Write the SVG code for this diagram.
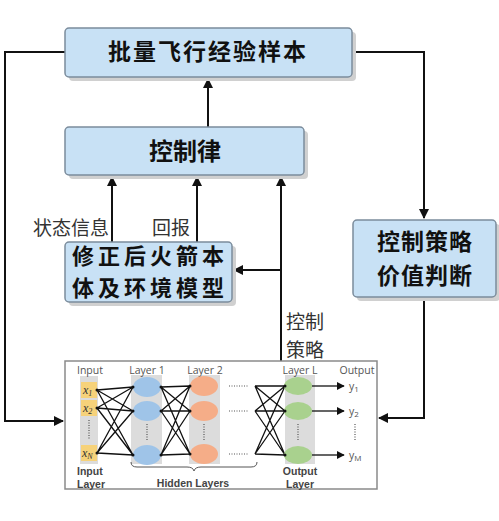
<svg xmlns="http://www.w3.org/2000/svg" width="499" height="521" viewBox="0 0 499 521">
<defs>
<style>
.box{fill:#c8e1f5;stroke:#7b8c9c;stroke-width:1.5}
.shadow{fill:#d0d0d0}
.bt{font-family:"Noto Sans CJK SC",sans-serif;font-weight:bold;fill:#111;text-anchor:middle}
.lb{font-family:"Noto Sans CJK SC",sans-serif;font-size:19px;fill:#333}
.ln{fill:none;stroke:#111;stroke-width:2}
.nn{fill:none;stroke:#111;stroke-width:1.3}
.col{fill:#dcdcdc}
.t{font-family:"Open Sans","Liberation Sans",sans-serif;font-size:10.5px;fill:#555}
.tb{font-family:"Liberation Sans",sans-serif;font-size:10.5px;font-weight:bold;fill:#444}
.xl{font-family:"Liberation Serif",serif;font-style:italic;font-size:12px;fill:#333}
.dot{fill:none;stroke:#555;stroke-width:1.2;stroke-dasharray:1 1.5}
</style>
<marker id="ah" viewBox="0 0 10 10" refX="9" refY="5" markerWidth="5" markerHeight="5" orient="auto" markerUnits="strokeWidth">
<path d="M0,0 L10,5 L0,10 z" fill="#111"/>
</marker>
<marker id="ah2" viewBox="0 0 10 10" refX="9" refY="5" markerWidth="6" markerHeight="6" orient="auto" markerUnits="strokeWidth">
<path d="M0,0 L10,5 L0,10 z" fill="#111"/>
</marker>
</defs>
<rect width="499" height="521" fill="#fff"/>

<g id="connectors">
<path class="ln" d="M208,127 L208,79" marker-end="url(#ah)"/>
<path class="ln" d="M65,52 L5,52 L5,421 L63,421" marker-end="url(#ah)"/>
<path class="ln" d="M352,52 L424,52 L424,218" marker-end="url(#ah)"/>
<path class="ln" d="M424,297 L424,418 L379,418" marker-end="url(#ah)"/>
<path class="ln" d="M112,242 L112,177" marker-end="url(#ah)"/>
<path class="ln" d="M197,242 L197,177" marker-end="url(#ah)"/>
<path class="ln" d="M281,361 L281,177" marker-end="url(#ah)"/>
<path class="ln" d="M281,270 L234,270" marker-end="url(#ah)"/>
</g>

<g id="labels">
<text class="lb" x="109" y="235" text-anchor="end">状态信息</text>
<text class="lb" x="190" y="235" text-anchor="end">回报</text>
<text class="lb" x="286" y="329">控制<tspan x="286" dy="28">策略</tspan></text>
</g>

<g id="node-samples">
<rect class="shadow" x="69" y="32" width="287" height="49" rx="4"/>
<rect class="box" x="65" y="28" width="287" height="49" rx="4"/>
<text class="bt" x="208" y="60" font-size="23" letter-spacing="2">批量飞行经验样本</text>
</g>

<g id="node-law">
<rect class="shadow" x="69" y="131" width="239" height="48" rx="4"/>
<rect class="box" x="65" y="127" width="239" height="48" rx="4"/>
<text class="bt" x="185" y="160" font-size="24">控制律</text>
</g>

<g id="node-model">
<rect class="shadow" x="69" y="246" width="167" height="60" rx="4"/>
<rect class="box" x="65" y="242" width="167" height="60" rx="4"/>
<text class="bt" x="150" y="264" font-size="22" letter-spacing="4">修正后火箭本<tspan x="150" dy="32">体及环境模型</tspan></text>
</g>

<g id="node-value">
<rect class="shadow" x="357" y="224" width="143" height="77" rx="4"/>
<rect class="box" x="353" y="220" width="143" height="77" rx="4"/>
<text class="bt" x="425" y="250" font-size="23" letter-spacing="1">控制策略<tspan x="425" dy="34">价值判断</tspan></text>
</g>

<g id="node-nn">
<rect x="65" y="361" width="312" height="128" fill="#fff" stroke="#8a8a8a" stroke-width="1.5"/>
<rect class="col" x="80" y="376" width="18" height="88"/>
<rect class="col" x="131" y="375" width="31" height="89"/>
<rect class="col" x="189" y="375" width="31" height="89"/>
<rect class="col" x="285" y="375" width="30" height="89"/>
<text class="t" x="77" y="374">Input</text>
<text class="t" x="147" y="374" text-anchor="middle">Layer 1</text>
<text class="t" x="205" y="374" text-anchor="middle">Layer 2</text>
<text class="t" x="300" y="374" text-anchor="middle">Layer L</text>
<text class="t" x="357" y="374" text-anchor="middle">Output</text>
<g class="nn">
<path d="M97,390 L133,387 M97,390 L133,411 M97,390 L133,455 M97,408 L133,387 M97,408 L133,411 M97,408 L133,455 M97,453 L133,387 M97,453 L133,411 M97,453 L133,455"/>
<path d="M161,387 L190,386 M161,387 L190,411 M161,387 L190,454 M161,411 L190,386 M161,411 L190,411 M161,411 L190,454 M161,455 L190,386 M161,455 L190,411 M161,455 L190,454"/>
<path d="M255,386 L285,386 M255,386 L285,411 M255,386 L285,455 M255,411 L285,386 M255,411 L285,411 M255,411 L285,455 M255,454 L285,386 M255,454 L285,411 M255,454 L285,455"/>
</g>
<rect x="81" y="382" width="16" height="16" fill="#f6d27a"/>
<rect x="81" y="400" width="16" height="16" fill="#f6d27a"/>
<rect x="81" y="445" width="16" height="16" fill="#f6d27a"/>
<text class="xl" x="83" y="394">x<tspan font-size="8" dy="2">1</tspan></text>
<text class="xl" x="83" y="412">x<tspan font-size="8" dy="2">2</tspan></text>
<text class="xl" x="82" y="457">x<tspan font-size="8" dy="2">N</tspan></text>
<path class="dot" d="M89,420 L89,440"/>
<ellipse cx="147" cy="387" rx="14" ry="10" fill="#9fc4e8"/>
<ellipse cx="147" cy="411" rx="14" ry="10" fill="#9fc4e8"/>
<ellipse cx="147" cy="455" rx="14" ry="10" fill="#9fc4e8"/>
<path class="dot" d="M147,424 L147,441"/>
<ellipse cx="204" cy="386" rx="14" ry="10" fill="#f5ad88"/>
<ellipse cx="204" cy="411" rx="14" ry="10" fill="#f5ad88"/>
<ellipse cx="204" cy="454" rx="14" ry="10" fill="#f5ad88"/>
<path class="dot" d="M204,424 L204,441"/>
<path class="dot" d="M229,386 L248,386 M229,411 L248,411 M229,454 L248,454"/>
<ellipse cx="298" cy="386" rx="14" ry="9" fill="#a9d18e"/>
<ellipse cx="298" cy="411" rx="14" ry="9" fill="#a9d18e"/>
<ellipse cx="298" cy="455" rx="14" ry="9" fill="#a9d18e"/>
<path class="dot" d="M298,424 L298,441"/>
<g fill="#111">
<circle cx="97" cy="390" r="1.5"/><circle cx="97" cy="408" r="1.5"/><circle cx="97" cy="453" r="1.5"/>
<circle cx="133" cy="387" r="1.5"/><circle cx="133" cy="411" r="1.5"/><circle cx="133" cy="455" r="1.5"/>
<circle cx="161" cy="387" r="1.5"/><circle cx="161" cy="411" r="1.5"/><circle cx="161" cy="455" r="1.5"/>
<circle cx="190" cy="386" r="1.5"/><circle cx="190" cy="411" r="1.5"/><circle cx="190" cy="454" r="1.5"/>
<circle cx="285" cy="386" r="1.5"/><circle cx="285" cy="411" r="1.5"/><circle cx="285" cy="455" r="1.5"/>
</g>
<path class="nn" d="M312,386 L344,386" marker-end="url(#ah2)"/>
<path class="nn" d="M312,411 L344,411" marker-end="url(#ah2)"/>
<path class="nn" d="M312,455 L344,455" marker-end="url(#ah2)"/>
<text class="t" x="349" y="390" font-size="11">y<tspan font-size="8" dy="2">1</tspan></text>
<text class="t" x="349" y="415" font-size="11">y<tspan font-size="8" dy="2">2</tspan></text>
<text class="t" x="349" y="459" font-size="11">y<tspan font-size="8" dy="2">M</tspan></text>
<path class="dot" d="M355,424 L355,441"/>
<path d="M131,462 Q131,467 137,467 L187,467 Q193,467 194,471 Q195,467 201,467 L251,467 Q257,467 257,462" fill="none" stroke="#555" stroke-width="1"/>
<text class="tb" x="77" y="475">Input<tspan x="77" dy="12.5">Layer</tspan></text>
<text class="tb" x="193" y="487" text-anchor="middle">Hidden Layers</text>
<text class="tb" x="300" y="475" text-anchor="middle">Output<tspan x="300" dy="12.5">Layer</tspan></text>
</g>
</svg>
